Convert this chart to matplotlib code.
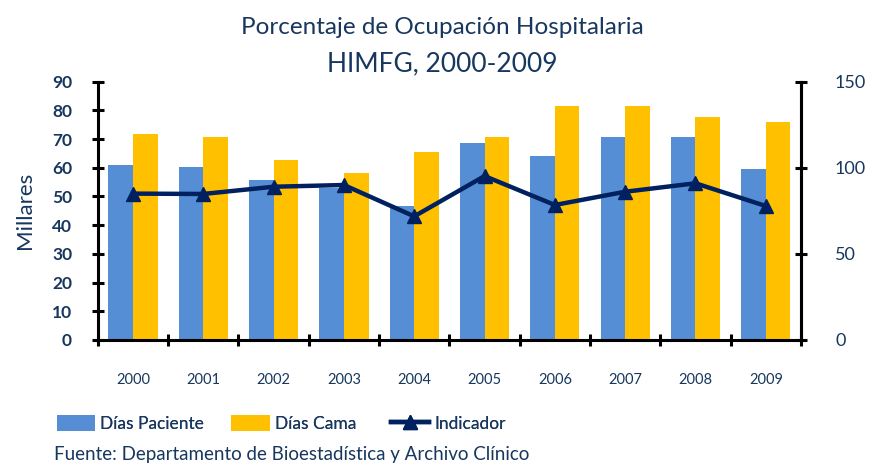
import numpy as np
import matplotlib
matplotlib.use("Agg")
import matplotlib.pyplot as plt
from matplotlib.ticker import MultipleLocator, FixedLocator

# Data
years = ['2000', '2001', '2002', '2003', '2004', '2005', '2006', '2007', '2008', '2009']
dias_paciente = [61.0, 60.3, 55.7, 53.1, 46.7, 68.6, 64.1, 70.8, 70.8, 59.6]   # miles
dias_cama = [71.7, 70.8, 62.6, 58.1, 65.6, 70.8, 81.5, 81.5, 77.6, 76.1]       # miles
indicador = [85.0, 84.8, 89.0, 90.0, 71.8, 95.2, 78.4, 86.1, 91.0, 77.8]       # porcentaje

text_color = '#17375E'
blue = '#558ED5'
yellow = '#FFC000'
navy = '#002060'

plt.rcParams['font.family'] = ['Lato', 'DejaVu Sans']

fig = plt.figure(figsize=(8.73, 4.66), dpi=100)
ax = fig.add_axes([0.112, 0.2704, 0.8055, 0.5543])
ax2 = ax.twinx()

x = np.arange(len(years))
w = 0.35
ax.bar(x - w / 2, dias_paciente, width=w, color=blue, label='Días Paciente', zorder=2)
ax.bar(x + w / 2, dias_cama, width=w, color=yellow, label='Días Cama', zorder=2)
ax2.plot(x, indicador, color=navy, linewidth=3.2, marker='^', markersize=10,
         label='Indicador', zorder=3)

# Axes limits
ax.set_xlim(-0.5, len(years) - 0.5)
ax.set_ylim(0, 90)
ax2.set_ylim(0, 150)

# Left axis
ax.yaxis.set_major_locator(MultipleLocator(10))
ax.tick_params(axis='y', direction='inout', length=9, width=2.2, colors='black',
               labelcolor=text_color, labelsize=12.5, pad=14)
for lbl in ax.get_yticklabels():
    lbl.set_fontweight('bold')
ax.set_ylabel('Millares', color=text_color, fontsize=16, labelpad=12)

# Right axis
ax2.yaxis.set_major_locator(MultipleLocator(50))
ax2.tick_params(axis='y', direction='inout', length=9, width=2.2, colors='black',
                labelcolor=text_color, labelsize=13, pad=20)

# X axis: ticks at category boundaries, labels centered
ax.set_xticks(x)
ax.set_xticklabels(years)
ax.xaxis.set_minor_locator(FixedLocator(np.arange(-0.5, len(years), 1.0)))
ax.tick_params(axis='x', which='major', length=0, labelcolor=text_color,
               labelsize=10.5, pad=24)
ax.tick_params(axis='x', which='minor', direction='inout', length=9, width=2.2,
               colors='black')

for a in (ax, ax2):
    a.spines['top'].set_visible(False)
    for s in ('left', 'right', 'bottom'):
        a.spines[s].set_linewidth(2.2)
ax2.spines['left'].set_visible(False)
ax2.spines['bottom'].set_visible(False)

# Title
fig.text(0.507, 0.942, 'Porcentaje de Ocupación Hospitalaria', ha='center', va='center',
         color=text_color, fontsize=17.5)
fig.text(0.507, 0.862, 'HIMFG, 2000-2009', ha='center', va='center',
         color=text_color, fontsize=19)

# Legend: one entry per slot, placed like the reference
h1, l1 = ax.get_legend_handles_labels()
h2, l2 = ax2.get_legend_handles_labels()
handles = h1 + h2
labels = l1 + l2
slots = [0.065, 0.265, 0.448]
for hnd, lab, xs in zip(handles, labels, slots):
    leg = fig.legend([hnd], [lab], loc='center left', bbox_to_anchor=(xs, 0.092),
                     frameon=False, fontsize=12.5,
                     handlelength=2.2, handleheight=1.1, handletextpad=0.3,
                     labelcolor=text_color, borderaxespad=0, borderpad=0)
    fig.add_artist(leg)

# Source
fig.text(0.062, 0.025, 'Fuente: Departamento de Bioestadística y Archivo Clínico',
         ha='left', va='center', color=text_color, fontsize=13.5)

fig.savefig('out.png', dpi=100)
plt.close(fig)
